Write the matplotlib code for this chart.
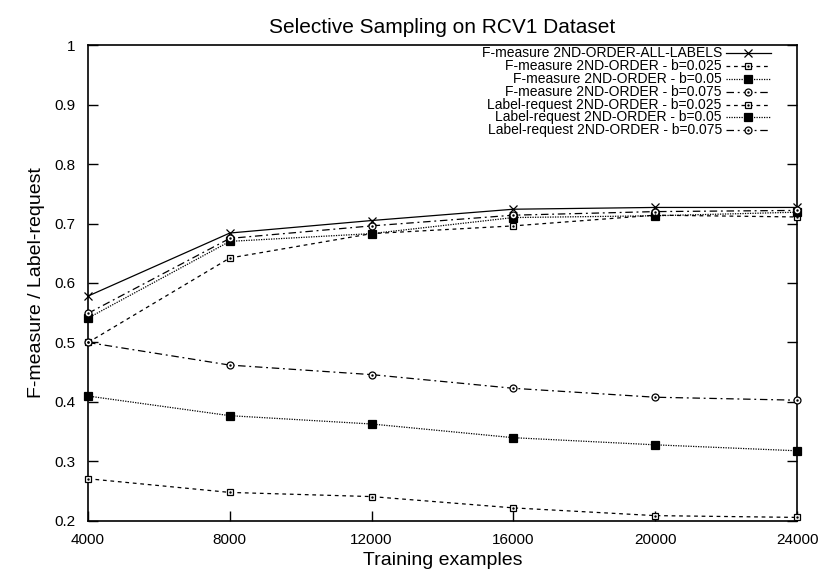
import matplotlib.pyplot as plt

plt.rcParams['font.family'] = ['Liberation Sans', 'DejaVu Sans']

# training set sizes
x = [4000, 8000, 12000, 16000, 20000, 24000]

# F-measure curves
f_all = [0.578, 0.684, 0.705, 0.724, 0.727, 0.727]
f_025 = [0.500, 0.642, 0.683, 0.696, 0.714, 0.711]
f_05 = [0.541, 0.670, 0.683, 0.710, 0.713, 0.719]
f_075 = [0.549, 0.675, 0.696, 0.714, 0.720, 0.722]

# label-request curves
lr_025 = [0.271, 0.248, 0.241, 0.222, 0.209, 0.206]
lr_05 = [0.410, 0.377, 0.363, 0.340, 0.328, 0.318]
lr_075 = [0.500, 0.462, 0.446, 0.423, 0.408, 0.403]

labels = ['F-measure 2ND-ORDER-ALL-LABELS',
          'F-measure 2ND-ORDER - b=0.025',
          'F-measure 2ND-ORDER - b=0.05',
          'F-measure 2ND-ORDER - b=0.075',
          'Label-request 2ND-ORDER - b=0.025',
          'Label-request 2ND-ORDER - b=0.05',
          'Label-request 2ND-ORDER - b=0.075']

solid = '-'
dashed = (0, (3, 3))
dotted = (0, (1, 1))
dashdot = (0, (6, 3, 1.5, 3))

styles = [
    dict(ls=solid, marker='x', ms=6, mfc='none'),
    dict(ls=dashed, marker='s', ms=5, mfc='white'),
    dict(ls=dotted, marker='s', ms=6, mfc='black'),
    dict(ls=dashdot, marker='o', ms=5, mfc='white'),
    dict(ls=dashed, marker='s', ms=5, mfc='white'),
    dict(ls=dotted, marker='s', ms=6, mfc='black'),
    dict(ls=dashdot, marker='o', ms=5, mfc='white'),
]
series = [f_all, f_025, f_05, f_075, lr_025, lr_05, lr_075]

fig = plt.figure(figsize=(8.21, 5.72), dpi=100)
ax = fig.add_axes([0.1072, 0.0892, 0.8636, 0.8321])

for ys, st in zip(series, styles):
    ax.plot(x, ys, color='black', lw=0.9, mec='black', mew=0.9,
            clip_on=False, zorder=3, **st)
    if st['mfc'] == 'white':
        # gnuplot open points carry a small centre dot
        ax.plot(x, ys, ls='none', marker='.', ms=1.5, color='black',
                clip_on=False, zorder=4)

# legend drawn by hand: right-aligned text, sample on the right
y0 = 0.983
dy = 0.0270
for i, (lab, st) in enumerate(zip(labels, styles)):
    yy = y0 - i * dy
    ax.text(0.894, yy, lab, transform=ax.transAxes, ha='right', va='center',
            fontsize=10)
    ax.plot([0.900, 0.963], [yy, yy], transform=ax.transAxes, color='black',
            lw=0.9, ls=st['ls'], clip_on=False)
    ax.plot([0.931], [yy], transform=ax.transAxes, color='black', ls='none',
            marker=st['marker'], ms=st['ms'], mfc=st['mfc'], mec='black',
            mew=0.9, clip_on=False)
    if st['mfc'] == 'white':
        ax.plot([0.931], [yy], transform=ax.transAxes, ls='none', marker='.',
                ms=1.5, color='black', clip_on=False)

ax.set_xlim(4000, 24000)
ax.set_ylim(0.2, 1.0)
ax.set_xticks(x)
ax.set_yticks([0.2, 0.3, 0.4, 0.5, 0.6, 0.7, 0.8, 0.9, 1.0])
ax.set_yticklabels(['0.2', '0.3', '0.4', '0.5', '0.6', '0.7', '0.8', '0.9', '1'])
ax.tick_params(direction='in', length=7, width=1, top=False, right=True,
               labelsize=11, pad=9)
for s in ax.spines.values():
    s.set_linewidth(1.2)

ax.set_title('Selective Sampling on RCV1 Dataset', fontsize=15, pad=9)
ax.set_xlabel('Training examples', fontsize=14, labelpad=3)
ax.set_ylabel('F-measure / Label-request', fontsize=14, labelpad=7)

fig.savefig('out.png', dpi=100)
